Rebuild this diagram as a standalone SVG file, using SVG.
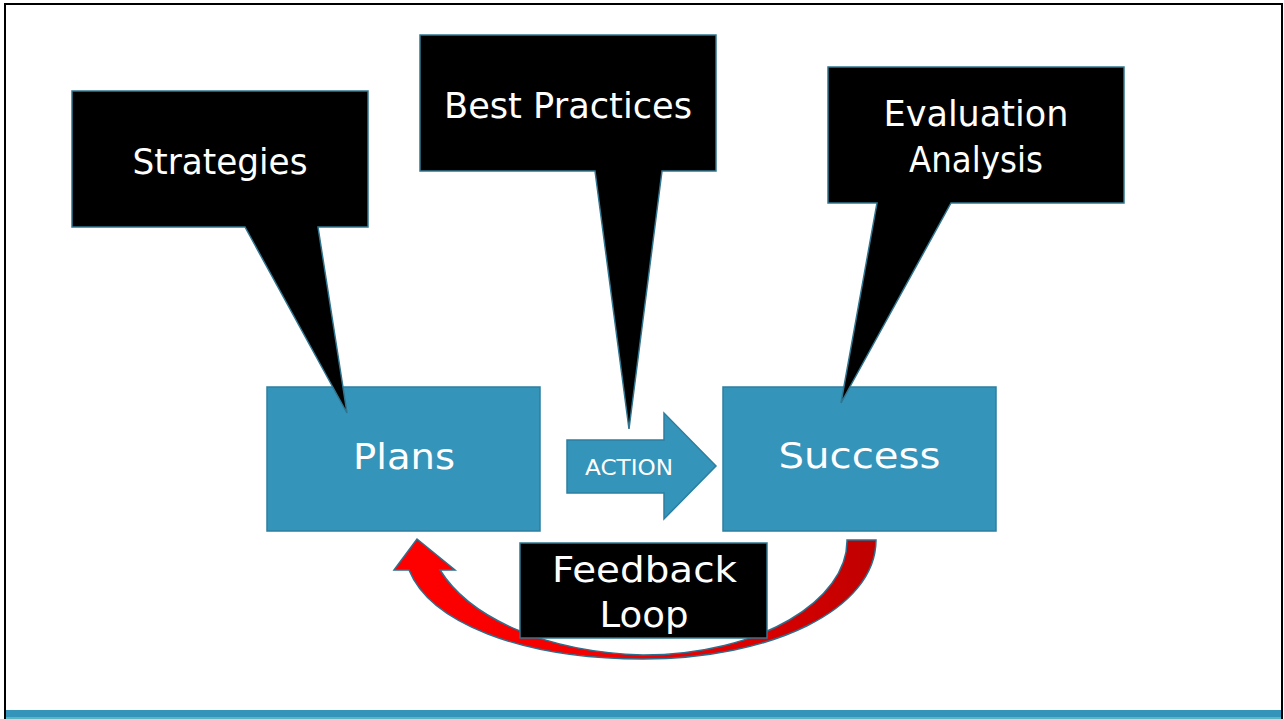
<svg xmlns="http://www.w3.org/2000/svg" width="1284" height="719" viewBox="0 0 1284 719">
<defs>
<linearGradient id="redgrad" x1="0" y1="0" x2="1" y2="0">
<stop offset="0" stop-color="#FF0000"/>
<stop offset="0.55" stop-color="#F00000"/>
<stop offset="1" stop-color="#C00000"/>
</linearGradient>
<style>
.box{fill:#3494BA;stroke:#2D7FA0;stroke-width:1.5}
.callout{fill:#000;stroke:#31758F;stroke-width:1.5;stroke-linejoin:miter}
.t{font-family:"DejaVu Sans","Liberation Sans",sans-serif;fill:#fff;text-anchor:middle}
.big{font-size:35px}
</style>
</defs>
<rect x="0" y="0" width="1284" height="719" fill="#fff"/>
<rect x="5" y="4" width="1277" height="730" fill="none" stroke="#000" stroke-width="2"/>
<rect x="6" y="710" width="1275" height="7" fill="#3494BA"/>
<rect x="6" y="717" width="1275" height="2" fill="#58B6C0"/>

<g id="connectors">
<path id="feedback-arrow" d="M876,540 C876,610 770,659 643,659 C520,659 430,622 409,570 L394,570 L417,539 L455,570 L440,570 C470,618 545,652 643,655 C760,655 848,600 847,540 Z" fill="url(#redgrad)" stroke="#2E6F8E" stroke-width="1.5"/>
</g>

<g id="plans">
<rect class="box" x="267" y="387" width="273" height="144"/>
<text class="t big" x="404" y="469" textLength="102" lengthAdjust="spacingAndGlyphs">Plans</text>
</g>

<g id="success">
<rect class="box" x="723" y="387" width="273" height="144"/>
<text class="t big" x="859.5" y="468" textLength="162" lengthAdjust="spacingAndGlyphs">Success</text>
</g>

<g id="action">
<path class="box" d="M567,440 H664 V413 L716,466 L664,519 V493 H567 Z"/>
<text class="t" x="629" y="475" font-size="21" textLength="88" lengthAdjust="spacingAndGlyphs">ACTION</text>
</g>

<g id="strategies">
<path class="callout" d="M72,91 H368 V227 H318 L347,413 L245,227 H72 Z"/>
<text class="t big" x="220" y="174" textLength="175" lengthAdjust="spacingAndGlyphs">Strategies</text>
</g>

<g id="best-practices">
<path class="callout" d="M420,35 H716 V171 H662 L629,429 L595,171 H420 Z"/>
<text class="t big" x="568" y="118" textLength="248" lengthAdjust="spacingAndGlyphs">Best Practices</text>
</g>

<g id="evaluation">
<path class="callout" d="M828,67 H1124 V203 H951 L841,403 L877,203 H828 Z"/>
<text class="t big" x="976" y="126" textLength="185" lengthAdjust="spacingAndGlyphs">Evaluation</text>
<text class="t big" x="976" y="172" textLength="134" lengthAdjust="spacingAndGlyphs">Analysis</text>
</g>

<g id="feedback-loop">
<rect class="callout" x="520" y="543" width="247" height="95"/>
<text class="t big" x="644.5" y="582" textLength="185" lengthAdjust="spacingAndGlyphs">Feedback</text>
<text class="t big" x="644" y="627" textLength="89" lengthAdjust="spacingAndGlyphs">Loop</text>
</g>
</svg>
